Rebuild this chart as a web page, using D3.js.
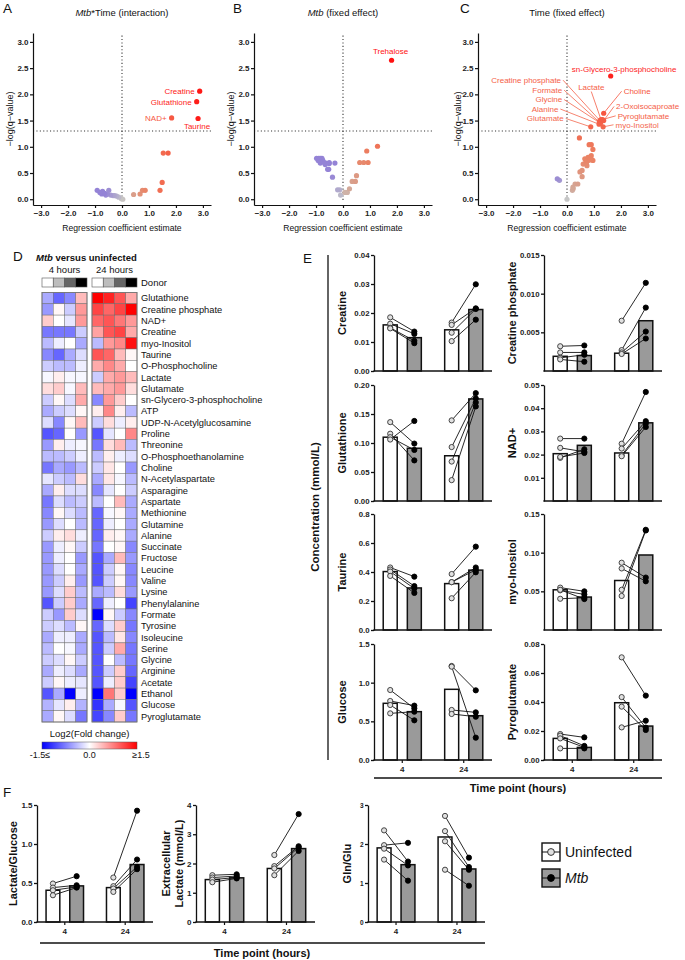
<!DOCTYPE html>
<html><head><meta charset="utf-8">
<script src="https://cdn.jsdelivr.net/npm/d3@7"></script>
<style>body{margin:0;background:#fff}svg{display:block;font-family:"Liberation Sans",Arial,Helvetica,sans-serif}</style>
</head><body><svg id="c" width="685" height="960"></svg>
<script>
// ================= DATA =================
const volcanoA = [
 {x:2.88,q:2.06,name:"Creatine"},{x:2.77,q:1.86,name:"Glutathione"},{x:2.82,q:1.54,name:"Taurine"},{x:1.84,q:1.55,name:"NAD+"},
 {x:1.53,q:0.88},{x:1.71,q:0.88},{x:1.49,q:0.32},{x:1.41,q:0.17},{x:0.86,q:0.17},{x:0.76,q:0.17},{x:0.67,q:0.10},{x:0.43,q:0.09},
 {x:0.03,q:0.00},{x:-0.02,q:0.01},
 {x:-0.92,q:0.17},{x:-0.82,q:0.13},{x:-0.72,q:0.15},{x:-0.64,q:0.11},{x:-0.49,q:0.17},{x:-0.54,q:0.10},{x:-0.42,q:0.08},
 {x:-0.33,q:0.07},{x:-0.27,q:0.07},{x:-0.20,q:0.06},{x:-0.12,q:0.04},{x:-0.60,q:0.08},{x:-0.75,q:0.10}
];
const volcanoB = [
 {x:1.80,q:2.65,name:"Trehalose"},
 {x:1.28,q:1.01},{x:0.88,q:0.92},{x:0.62,q:0.70},{x:0.77,q:0.70},{x:0.93,q:0.70},{x:0.50,q:0.45},{x:0.34,q:0.34},{x:0.46,q:0.34},
 {x:0.24,q:0.20},{x:0.16,q:0.13},{x:0.07,q:0.13},{x:-0.09,q:0.08},{x:-0.20,q:0.18},{x:-0.12,q:0.18},{x:-0.39,q:0.42},
 {x:-0.57,q:0.57},{x:-0.53,q:0.57},{x:-0.51,q:0.68},{x:-0.30,q:0.69},{x:-0.98,q:0.78},{x:-0.90,q:0.78},{x:-0.84,q:0.78},
 {x:-0.78,q:0.78},{x:-0.84,q:0.69},{x:-0.72,q:0.71},{x:-0.63,q:0.69},{x:-0.51,q:0.70},{x:-0.92,q:0.74},{x:-0.75,q:0.74},
 {x:-0.86,q:0.72},{x:-0.66,q:0.66}
];
const volcanoC = [
 {x:1.62,q:2.35,name:"sn-Glycero-3-phosphocholine"},{x:1.36,q:1.64,name:"Choline"},{x:1.22,q:1.50,name:"Creatine phosphate"},
 {x:1.26,q:1.52,name:"Lactate"},{x:1.20,q:1.47,name:"Formate"},{x:1.24,q:1.45,name:"Glycine"},{x:1.19,q:1.43,name:"Alanine"},
 {x:1.36,q:1.50,name:"2-Oxoisocaproate"},{x:1.32,q:1.52,name:"Pyroglutamate"},{x:1.34,q:1.38,name:"myo-Inositol"},
 {x:0.88,q:1.38,name:"Glutamate"},
 {x:0.46,q:1.17},{x:0.82,q:1.04},{x:0.90,q:1.04},{x:0.96,q:0.95},{x:0.90,q:0.83},{x:0.78,q:0.80},{x:0.66,q:0.77},
 {x:0.78,q:0.74},{x:0.96,q:0.74},{x:0.72,q:0.69},{x:0.60,q:0.67},{x:0.84,q:0.75},{x:0.70,q:0.73},{x:0.88,q:0.78},
 {x:0.74,q:0.64},{x:0.48,q:0.52},{x:0.56,q:0.55},{x:0.56,q:0.43},{x:0.40,q:0.29},{x:0.30,q:0.29},{x:0.22,q:0.23},
 {x:0.20,q:0.17},{x:0.23,q:0.20},{x:0.00,q:0.00},{x:-0.36,q:0.39},{x:-0.28,q:0.36}
];
const volcanoTicksX = [-3,-2,-1,0,1,2,3];
const volcanoTicksY = [0,0.5,1.0,1.5,2.0,2.5,3.0];
const qThreshold = 1.3;

const hmRows = ["Glutathione","Creatine phosphate","NAD+","Creatine","myo-Inositol","Taurine","O-Phosphocholine","Lactate","Glutamate","sn-Glycero-3-phosphocholine","ATP","UDP-N-Acetylglucosamine","Proline","Threonine","O-Phosphoethanolamine","Choline","N-Acetylaspartate","Asparagine","Aspartate","Methionine","Glutamine","Alanine","Succinate","Fructose","Leucine","Valine","Lysine","Phenylalanine","Formate","Tyrosine","Isoleucine","Serine","Glycine","Arginine","Acetate","Ethanol","Glucose","Pyroglutamate"];
const fc4h = [
[-0.5,-0.9,-0.7,0.4],[-0.6,0.05,-0.3,0.6],[0.3,0,-0.15,0.6],[-0.8,-0.8,-0.8,-0.3],[-0.4,-0.1,0,-0.5],
[-0.7,-0.9,-0.5,-0.2],[-0.3,-0.4,-0.4,-0.1],[-0.05,0.1,-0.05,-0.05],[0.2,0.3,-0.05,0.4],[-0.3,0.05,-0.2,0.5],
[-0.5,-0.3,-0.2,0.05],[-0.2,-0.7,0.05,0.4],[-1.0,-0.9,0,-0.6],[-0.6,0.1,-0.1,-0.05],[-0.4,-0.4,-0.3,-0.1],
[-0.8,-0.5,-0.6,-0.4],[-0.15,-0.3,-0.4,0.2],[-0.5,0.1,-0.2,-0.2],[-0.8,-0.2,-0.4,-0.3],[-0.7,0.05,-0.2,-0.4],
[-0.6,-0.2,0,-0.4],[-0.3,0.1,0.2,-0.1],[-0.6,-0.1,0.05,-0.3],[-0.6,-0.1,0,-0.6],[-0.6,-0.2,0,-0.5],
[-0.6,-0.3,0.1,-0.6],[-0.6,-0.2,0.3,-0.4],[-1.0,-0.3,0.3,-0.5],[-0.3,-0.6,0.3,-0.2],[-0.3,-0.2,-0.4,0.05],
[-0.5,-0.1,-0.1,-0.5],[-0.4,0,-0.05,-0.5],[-0.3,-0.2,0.05,-0.3],[-0.5,-0.1,-0.2,-0.5],[-0.3,0.05,-0.1,-0.15],
[-1.0,-0.5,-1.5,-0.1],[-0.45,-0.15,0.1,-0.45],[-0.5,0.05,-0.2,-0.8]
];
const fc24h = [
[1.5,1.3,1.0,0.5],[1.1,0.9,1.1,1.5],[0.9,1.0,0.8,0.6],[0.55,1.0,1.1,0.5],[-0.4,0.6,0.7,1.4],
[1.0,0.9,0.4,0.05],[0.5,0.7,0.5,0],[-0.3,0.5,0.6,0.4],[0.4,0.5,0.6,0.2],[-0.7,0.6,0.3,0],
[0.1,0.7,0.1,-0.4],[-0.3,0.2,-0.1,0.1],[-1.0,-0.15,0,0.7],[-0.8,0.2,0.4,-0.4],[-0.4,0.1,-0.1,-0.2],
[-0.3,0.15,0,-0.6],[-0.5,0.15,-0.05,-0.4],[-0.7,-0.15,0,-0.3],[-0.4,0,0.4,-0.5],[-0.9,-0.05,0.05,-0.5],
[-0.9,-0.1,0,-0.5],[-0.9,0.1,0.05,-0.5],[-0.8,0,0.05,-0.7],[-1.0,-0.5,0.4,-0.6],[-1.0,-0.3,0.05,-0.7],
[-1.0,-0.3,0.05,-0.7],[-0.5,-0.4,0.2,-0.6],[-0.9,-0.1,0,-1.1],[-1.5,0.05,-0.3,-0.7],[-0.9,-0.2,0.3,-0.8],
[-1.0,-0.4,0.15,-0.7],[-1.0,-0.3,0.5,-0.8],[-1.0,0,-0.4,-0.8],[-1.0,-0.3,0.3,-0.9],[-1.0,-0.1,0.3,-1.1],
[-1.5,0.8,0.3,-1.5],[-1.2,-0.5,-0.05,-1.0],[-1.1,-0.7,0.3,-0.8]
];
const donors = ["D1","D2","D3","D4"];

const creatineVals = [
 {time:"4",cond:"Uninfected",mean:0.0159,pts:[0.0185,0.0163,0.0149,0.0147]},
 {time:"4",cond:"Mtb",mean:0.0115,pts:[0.0136,0.0128,0.0104,0.0096]},
 {time:"24",cond:"Uninfected",mean:0.0142,pts:[0.0167,0.0159,0.0132,0.0103]},
 {time:"24",cond:"Mtb",mean:0.0212,pts:[0.0299,0.0216,0.0214,0.0177]}];
const creatinePVals = [
 {time:"4",cond:"Uninfected",mean:0.0019,pts:[0.0032,0.0024,0.0017,0.0015]},
 {time:"4",cond:"Mtb",mean:0.0020,pts:[0.0033,0.0024,0.0021,0.0012]},
 {time:"24",cond:"Uninfected",mean:0.0023,pts:[0.0065,0.0027,0.0024,0.0022]},
 {time:"24",cond:"Mtb",mean:0.0065,pts:[0.0114,0.0082,0.0051,0.0042]}];
const glutathioneVals = [
 {time:"4",cond:"Uninfected",mean:0.110,pts:[0.136,0.116,0.110,0.106]},
 {time:"4",cond:"Mtb",mean:0.091,pts:[0.099,0.070,0.088,0.138]},
 {time:"24",cond:"Uninfected",mean:0.078,pts:[0.139,0.093,0.068,0.036]},
 {time:"24",cond:"Mtb",mean:0.176,pts:[0.186,0.177,0.170,0.163]}];
const nadVals = [
 {time:"4",cond:"Uninfected",mean:0.0204,pts:[0.0269,0.0229,0.0186,0.0190]},
 {time:"4",cond:"Mtb",mean:0.0240,pts:[0.0269,0.0212,0.0223,0.0207]},
 {time:"24",cond:"Uninfected",mean:0.0207,pts:[0.0247,0.0226,0.0197,0.0193]},
 {time:"24",cond:"Mtb",mean:0.0337,pts:[0.0470,0.0344,0.0334,0.0319]}];
const taurineVals = [
 {time:"4",cond:"Uninfected",mean:0.403,pts:[0.431,0.417,0.403,0.373]},
 {time:"4",cond:"Mtb",mean:0.290,pts:[0.368,0.303,0.286,0.256]},
 {time:"24",cond:"Uninfected",mean:0.320,pts:[0.386,0.330,0.219,0.330]},
 {time:"24",cond:"Mtb",mean:0.413,pts:[0.575,0.431,0.398,0.415]}];
const myoVals = [
 {time:"4",cond:"Uninfected",mean:0.0520,pts:[0.0548,0.0513,0.0404,0.0520]},
 {time:"4",cond:"Mtb",mean:0.0426,pts:[0.0500,0.0460,0.0417,0.0400]},
 {time:"24",cond:"Uninfected",mean:0.0640,pts:[0.0870,0.0796,0.0520,0.0440]},
 {time:"24",cond:"Mtb",mean:0.0970,pts:[0.0678,0.0630,0.1296,0.1287]}];
const glucoseVals = [
 {time:"4",cond:"Uninfected",mean:0.733,pts:[0.905,0.763,0.711,0.603]},
 {time:"4",cond:"Mtb",mean:0.625,pts:[0.668,0.703,0.513,0.625]},
 {time:"24",cond:"Uninfected",mean:0.914,pts:[1.216,1.207,0.647,0.595]},
 {time:"24",cond:"Mtb",mean:0.573,pts:[0.901,0.289,0.616,0.560]}];
const pyroVals = [
 {time:"4",cond:"Uninfected",mean:0.0149,pts:[0.0179,0.0168,0.0149,0.0080]},
 {time:"4",cond:"Mtb",mean:0.0087,pts:[0.0156,0.0097,0.0087,0.0080]},
 {time:"24",cond:"Uninfected",mean:0.0395,pts:[0.0708,0.0434,0.0368,0.0225]},
 {time:"24",cond:"Mtb",mean:0.0234,pts:[0.0444,0.0223,0.0207,0.0271]}];
const lacGlcVals = [
 {time:"4",cond:"Uninfected",mean:0.407,pts:[0.493,0.441,0.407,0.343]},
 {time:"4",cond:"Mtb",mean:0.463,pts:[0.587,0.471,0.450,0.441]},
 {time:"24",cond:"Uninfected",mean:0.441,pts:[0.570,0.459,0.429,0.386]},
 {time:"24",cond:"Mtb",mean:0.737,pts:[1.427,0.801,0.707,0.677]}];
const extLacVals = [
 {time:"4",cond:"Uninfected",mean:1.45,pts:[1.60,1.52,1.45,1.36]},
 {time:"4",cond:"Mtb",mean:1.51,pts:[1.63,1.57,1.52,1.49]},
 {time:"24",cond:"Uninfected",mean:1.83,pts:[2.29,1.91,1.83,1.60]},
 {time:"24",cond:"Mtb",mean:2.51,pts:[3.69,2.59,2.55,2.43]}];
const glnGluVals = [
 {time:"4",cond:"Uninfected",mean:1.90,pts:[2.35,1.97,1.88,1.60]},
 {time:"4",cond:"Mtb",mean:1.47,pts:[1.55,2.03,1.45,1.06]},
 {time:"24",cond:"Uninfected",mean:2.18,pts:[2.72,2.33,2.07,1.34]},
 {time:"24",cond:"Mtb",mean:1.36,pts:[1.65,1.41,1.34,0.93]}];
const timePoints = ["4","24"];
const conditions = ["Uninfected","Mtb"];

// ================= DRAWING =================
const svg = d3.select("#c");
const BOLD = 700;
function txt(g, x, y, s, o={}) {
  const t = g.append("text").attr("x",x).attr("y",y).text(s)
   .attr("font-size",o.size||9).attr("fill",o.fill||"#111")
   .attr("text-anchor",o.anchor||"start");
  if (o.weight) t.attr("font-weight",o.weight);
  if (o.italic) t.attr("font-style","italic");
  if (o.rotate) t.attr("transform",`rotate(-90,${x},${y})`);
  return t;
}
function letter(x,y,s){ txt(svg,x,y,s,{size:13.5}); }

const cPos = d3.scaleLinear().domain([0,0.08,0.3,0.55,1]).range(["#c6c6c6","#d3a898","#ea8466","#f4654b","#ff1010"]);
function volColor(d){
  if (d.x < -0.05) {
    const t = Math.min(1, Math.abs(d.x)/0.7 + d.q/1.2);
    return d3.interpolateRgb("#c6c6c6","#9483d6")(t);
  }
  return cPos(Math.min(1, Math.max(d.x/3, d.q/2.6, 0)));
}
const labelsA = [
 {name:"Creatine",dx:-5,dy:3,anchor:"end"},{name:"Glutathione",dx:-5,dy:3,anchor:"end"},
 {name:"NAD+",dx:-5,dy:3,anchor:"end"},{name:"Taurine",dx:-1,dy:10.5,anchor:"middle"}];
const labelsB = [{name:"Trehalose",dx:-1,dy:-6,anchor:"middle"}];
const labelsC = [
 {name:"sn-Glycero-3-phosphocholine",lx:0.18,ly:2.48,anchor:"start",line:false},
 {name:"Creatine phosphate",lx:-0.22,ly:2.27,anchor:"end",line:true},
 {name:"Formate",lx:-0.18,ly:2.08,anchor:"end",line:true},
 {name:"Glycine",lx:-0.18,ly:1.90,anchor:"end",line:true},
 {name:"Alanine",lx:-0.32,ly:1.72,anchor:"end",line:true},
 {name:"Glutamate",lx:-0.12,ly:1.54,anchor:"end",line:true},
 {name:"Lactate",lx:0.90,ly:2.13,anchor:"middle",line:true},
 {name:"Choline",lx:2.10,ly:2.06,anchor:"start",line:true},
 {name:"2-Oxoisocaproate",lx:1.82,ly:1.77,anchor:"start",line:true},
 {name:"Pyroglutamate",lx:1.88,ly:1.59,anchor:"start",line:true},
 {name:"myo-Inositol",lx:1.80,ly:1.42,anchor:"start",line:true}];

function volcano(cfg){
  const g = svg.append("g");
  const X = d3.scaleLinear().domain([-3.3,3.3]).range([cfg.x0, cfg.x0+178]);
  const Y = d3.scaleLinear().domain([-0.11,3.17]).range([205,33]);
  g.append("line").attr("x1",X(0)).attr("x2",X(0)).attr("y1",Y(3.12)).attr("y2",Y(-0.05))
   .attr("stroke","#333").attr("stroke-width",1.1).attr("stroke-dasharray","1.1,2.3");
  g.append("line").attr("x1",X(-3.3)).attr("x2",X(3.3)).attr("y1",Y(qThreshold)).attr("y2",Y(qThreshold))
   .attr("stroke","#333").attr("stroke-width",1.1).attr("stroke-dasharray","1.1,2.3");
  const ay = g.append("g").attr("transform",`translate(${cfg.x0},0)`)
   .call(d3.axisLeft(Y).tickValues(volcanoTicksY).tickFormat(d3.format(".1f")).tickSize(3).tickSizeOuter(0));
  const ax = g.append("g").attr("transform",`translate(0,205)`)
   .call(d3.axisBottom(X).tickValues(volcanoTicksX).tickSize(3).tickSizeOuter(0));
  [ax,ay].forEach(a=>{a.selectAll("path,line").attr("stroke","#111").attr("stroke-width",1.2);
    a.selectAll("text").attr("font-size",8).attr("font-weight",BOLD).attr("fill","#222").attr("font-family",null);});
  ay.selectAll("text").attr("x",-4.5);
  ax.selectAll("text").attr("y",5.5);
  const pts = cfg.data.slice().sort((a,b)=>(a.q+Math.abs(a.x)/3)-(b.q+Math.abs(b.x)/3));
  g.selectAll("circle.p").data(pts).join("circle").attr("cx",d=>X(d.x)).attr("cy",d=>Y(d.q)).attr("r",2.6)
   .attr("fill",volColor);
  cfg.labels.forEach(l=>{
    const d = cfg.data.find(p=>p.name===l.name);
    const col = volColor(d);
    if (l.lx!==undefined){
      const lx = X(l.lx), ly = Y(l.ly);
      txt(g,lx,ly+2.8,l.name,{size:8,fill:col,anchor:l.anchor});
      if (l.line){
        let sx = lx, sy = ly;
        if (l.anchor==="end") sx = lx+2; else if (l.anchor==="start") sx = lx-2; else sy = ly+4;
        g.append("line").attr("x1",sx).attr("y1",sy).attr("x2",X(d.x)).attr("y2",Y(d.q))
         .attr("stroke",col).attr("stroke-width",0.8);
      }
    } else {
      txt(g,X(d.x)+l.dx,Y(d.q)+l.dy,l.name,{size:8,fill:col,anchor:l.anchor});
    }
  });
  const t = g.append("text").attr("x",X(0)).attr("y",16).attr("text-anchor","middle").attr("font-size",9.5).attr("fill","#111");
  cfg.title.forEach(([s,it])=>t.append("tspan").text(s).attr("font-style",it?"italic":null));
  txt(g,X(0),231,"Regression coefficient estimate",{size:8.6,anchor:"middle"});
  txt(g,cfg.ylx,119,"\u2212log(q\u2212value)",{size:9,anchor:"middle",rotate:true});
  letter(cfg.lx,13,cfg.letter);
}
volcano({x0:33,data:volcanoA,labels:labelsA,title:[["Mtb",true],["*Time (interaction)",false]],ylx:13,lx:3,letter:"A"});
volcano({x0:254,data:volcanoB,labels:labelsB,title:[["Mtb",true],[" (fixed effect)",false]],ylx:234,lx:233,letter:"B"});
volcano({x0:478,data:volcanoC,labels:labelsC,title:[["Time (fixed effect)",false]],ylx:461,lx:460,letter:"C"});

(function(){
  const g = svg.append("g");
  letter(13,261,"D");
  const tt = g.append("text").attr("x",36).attr("y",261).attr("font-size",9.5).attr("font-weight",BOLD).attr("fill","#111");
  tt.append("tspan").text("Mtb").attr("font-style","italic"); tt.append("tspan").text(" versus uninfected");
  const colScale = d3.scaleLinear().domain([-1.5,0,1.5]).range(["#0000ff","#ffffff","#ff0000"]).clamp(true);
  const Yr = d3.scaleBand().domain(hmRows).range([292.5,722]);
  const groups = [{label:"4 hours",m:fc4h,x0:42},{label:"24 hours",m:fc24h,x0:92}];
  groups.forEach(gr=>{
    const Xc = d3.scaleBand().domain(donors).range([gr.x0,gr.x0+45]);
    txt(g,gr.x0+22.5,273,gr.label,{size:9.5,anchor:"middle"});
    g.selectAll(null).data(donors).join("rect").attr("x",d=>Xc(d)).attr("y",278).attr("width",Xc.bandwidth()).attr("height",9)
     .attr("fill",(d,i)=>["#ffffff","#bdbdbd","#666666","#000000"][i]).attr("stroke","#555").attr("stroke-width",0.6);
    const cells = [];
    gr.m.forEach((row,ri)=>row.forEach((v,ci)=>cells.push({r:hmRows[ri],c:donors[ci],v})));
    g.selectAll(null).data(cells).join("rect").attr("x",d=>Xc(d.c)).attr("y",d=>Yr(d.r))
     .attr("width",Xc.bandwidth()).attr("height",Yr.bandwidth()).attr("fill",d=>colScale(d.v))
     .attr("stroke","#6a6a6a").attr("stroke-width",0.45);
    g.append("rect").attr("x",gr.x0).attr("y",292.5).attr("width",45).attr("height",722-292.5)
     .attr("fill","none").attr("stroke","#777").attr("stroke-width",0.9);
  });
  txt(g,141,286,"Donor",{size:9.5});
  hmRows.forEach(r=>txt(g,141,Yr(r)+Yr.bandwidth()/2+3.3,r,{size:9.3}));
  const defs = svg.append("defs");
  const lg = defs.append("linearGradient").attr("id","fcg");
  [["0%","#0000ff"],["50%","#ffffff"],["100%","#ff0000"]].forEach(([o,c])=>lg.append("stop").attr("offset",o).attr("stop-color",c));
  txt(g,89.5,737,"Log2(Fold change)",{size:9.5,anchor:"middle"});
  g.append("rect").attr("x",42).attr("y",742).attr("width",95).attr("height",7).attr("fill","url(#fcg)").attr("stroke","#555").attr("stroke-width",0.5);
  txt(g,40,758,"-1.5\u2264",{size:9,anchor:"middle"});
  txt(g,89.5,758,"0.0",{size:9,anchor:"middle"});
  txt(g,141,758,"\u22651.5",{size:9,anchor:"middle"});
})();

function barChart(cfg){
  const g = svg.append("g");
  const bottom = cfg.top+cfg.h;
  const Y = d3.scaleLinear().domain(cfg.dom).range([bottom,cfg.top]);
  const Xo = d3.scaleBand().domain(timePoints).range([cfg.x0,cfg.x0+cfg.w]).paddingInner(0.38).paddingOuter(0.15);
  const Xi = d3.scaleBand().domain(conditions).range([0,Xo.bandwidth()]).paddingInner(0.42);
  const cx = d=>Xo(d.time)+Xi(d.cond)+Xi.bandwidth()/2;
  g.selectAll(null).data(cfg.vals).join("rect")
   .attr("x",d=>Xo(d.time)+Xi(d.cond)).attr("y",d=>Y(d.mean)).attr("width",Xi.bandwidth())
   .attr("height",d=>Y(0)-Y(d.mean)).attr("fill",d=>d.cond==="Mtb"?"#9a9a9a":"#fff")
   .attr("stroke","#111").attr("stroke-width",1.5);
  timePoints.forEach(t=>{
    const u = cfg.vals.find(v=>v.time===t&&v.cond==="Uninfected");
    const m = cfg.vals.find(v=>v.time===t&&v.cond==="Mtb");
    g.selectAll(null).data(u.pts.map((p,i)=>[p,m.pts[i]])).join("line")
     .attr("x1",cx(u)).attr("x2",cx(m)).attr("y1",d=>Y(d[0])).attr("y2",d=>Y(d[1]))
     .attr("stroke","#111").attr("stroke-width",0.9);
  });
  cfg.vals.forEach(v=>{
    g.selectAll(null).data(v.pts).join("circle").attr("cx",cx(v)).attr("cy",d=>Y(d)).attr("r",2.6)
     .attr("fill",v.cond==="Mtb"?"#000":"#e0e0e0").attr("stroke",v.cond==="Mtb"?"#000":"#333").attr("stroke-width",0.9);
  });
  const ay = g.append("g").attr("transform",`translate(${cfg.x0},0)`)
   .call(d3.axisLeft(Y).tickValues(cfg.ticks).tickFormat(d3.format(cfg.fmt)).tickSize(3).tickSizeOuter(0));
  ay.selectAll("path,line").attr("stroke","#111").attr("stroke-width",1.3);
  ay.selectAll("text").attr("font-size",cfg.tf||7.8).attr("font-weight",BOLD).attr("fill","#222").attr("font-family",null).attr("x",-4.5);
  g.append("line").attr("x1",cfg.x0-0.6).attr("x2",cfg.x0+cfg.w).attr("y1",Y(0)).attr("y2",Y(0)).attr("stroke","#111").attr("stroke-width",1.5);
  if (cfg.showX){
    timePoints.forEach(t=>{
      const xm = Xo(t)+Xo.bandwidth()/2;
      g.append("line").attr("x1",xm).attr("x2",xm).attr("y1",bottom).attr("y2",bottom+3).attr("stroke","#111").attr("stroke-width",1.2);
      txt(g,xm,bottom+12,t,{size:8,weight:BOLD,anchor:"middle",fill:"#222"});
    });
  }
  const lines = Array.isArray(cfg.label)?cfg.label:[cfg.label];
  const gap = cfg.lgap||13;
  lines.forEach((s,i)=>txt(g,cfg.x0-cfg.lo+(i-(lines.length-1))*gap,cfg.top+cfg.h/2,s,{size:cfg.ls||11,weight:BOLD,anchor:"middle",rotate:true}));
}
const eCols = [374,544], eRows = [255,385,514,644];
const eCharts = [
 {label:"Creatine",vals:creatineVals,dom:[0,0.04],ticks:[0,0.01,0.02,0.03,0.04],fmt:".2f"},
 {label:"Creatine phosphate",vals:creatinePVals,dom:[0,0.015],ticks:[0.005,0.010,0.015],fmt:".3f"},
 {label:"Glutathione",vals:glutathioneVals,dom:[0,0.20],ticks:[0,0.05,0.10,0.15,0.20],fmt:".2f"},
 {label:"NAD+",vals:nadVals,dom:[0,0.05],ticks:[0.01,0.02,0.03,0.04,0.05],fmt:".2f"},
 {label:"Taurine",vals:taurineVals,dom:[0,0.8],ticks:[0,0.2,0.4,0.6,0.8],fmt:".1f"},
 {label:"myo-Inositol",vals:myoVals,dom:[0,0.15],ticks:[0.05,0.10,0.15],fmt:".2f"},
 {label:"Glucose",vals:glucoseVals,dom:[0,1.5],ticks:[0,0.5,1.0,1.5],fmt:".1f"},
 {label:"Pyroglutamate",vals:pyroVals,dom:[0,0.08],ticks:[0,0.02,0.04,0.06,0.08],fmt:".2f"}];
eCharts.forEach((c,i)=>barChart(Object.assign({x0:eCols[i%2],top:eRows[Math.floor(i/2)],w:118,h:116,lo:28,showX:i>=6},c)));
letter(303,263,"E");
svg.append("line").attr("x1",328).attr("x2",328).attr("y1",255).attr("y2",760).attr("stroke","#111").attr("stroke-width",1.3);
txt(svg,319,507,"Concentration (mmol/L)",{size:11.5,weight:BOLD,anchor:"middle",rotate:true});
svg.append("line").attr("x1",374).attr("x2",662).attr("y1",778).attr("y2",778).attr("stroke","#111").attr("stroke-width",1.3);
txt(svg,518,792,"Time point (hours)",{size:11,weight:BOLD,anchor:"middle"});

letter(3,797,"F");
barChart({x0:37,top:805,w:116,h:117,label:"Lactate/Glucose",vals:lacGlcVals,dom:[0,1.5],ticks:[0,0.5,1.0,1.5],fmt:".1f",lo:20,showX:true,tf:8});
barChart({x0:196,top:805,w:119,h:117,label:["Extracellular","Lactate (mmol/L)"],vals:extLacVals,dom:[0,4],ticks:[0,1,2,3,4],fmt:"d",lo:13.5,lgap:13,showX:true,tf:8});
barChart({x0:368,top:805,w:117,h:117,label:"Gln/Glu",vals:glnGluVals,dom:[0,3],ticks:[0,1,2,3],fmt:"d",lo:17,showX:true,tf:6.5});
svg.append("line").attr("x1",40).attr("x2",485).attr("y1",943).attr("y2",943).attr("stroke","#111").attr("stroke-width",1.3);
txt(svg,262,957,"Time point (hours)",{size:11,weight:BOLD,anchor:"middle"});

const legend = [{label:"Uninfected",fill:"#fff",dot:"#e0e0e0",ds:"#333",it:false},{label:"Mtb",fill:"#9a9a9a",dot:"#000",ds:"#000",it:true}];
legend.forEach((l,i)=>{
  const y = 843+i*26;
  svg.append("rect").attr("x",542).attr("y",y).attr("width",18).attr("height",18).attr("fill",l.fill).attr("stroke","#111").attr("stroke-width",1.4);
  svg.append("line").attr("x1",542).attr("x2",560).attr("y1",y+9).attr("y2",y+9).attr("stroke","#111").attr("stroke-width",1);
  svg.append("circle").attr("cx",551).attr("cy",y+9).attr("r",3.4).attr("fill",l.dot).attr("stroke",l.ds).attr("stroke-width",1);
  txt(svg,565,y+14,l.label,{size:14,italic:l.it});
});
</script></body></html>
